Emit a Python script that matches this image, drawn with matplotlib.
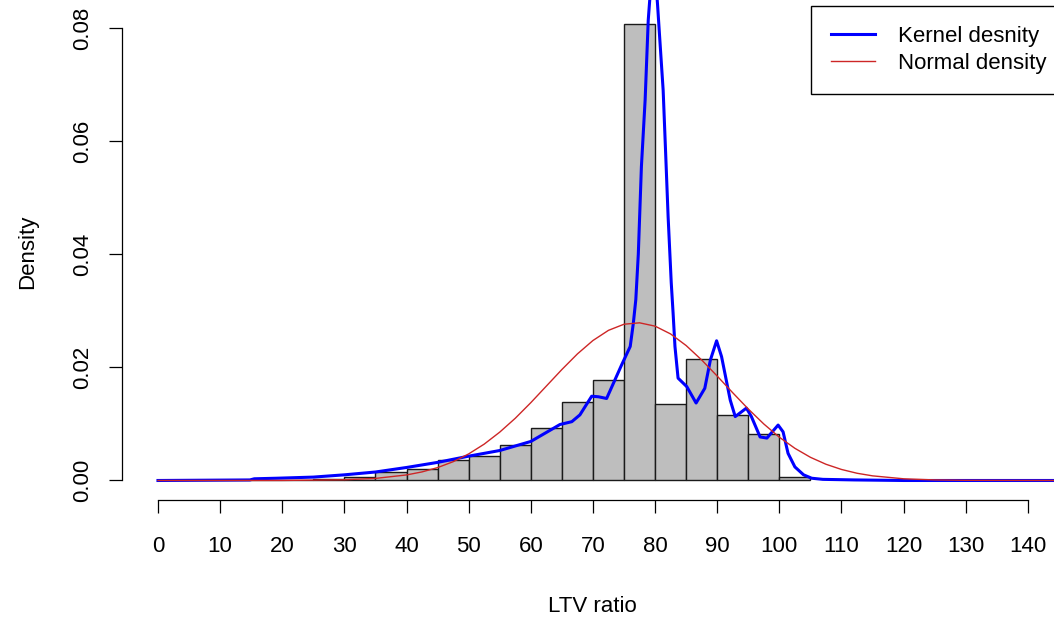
import matplotlib
matplotlib.use('Agg')
import matplotlib.pyplot as plt

plt.rcParams['font.family'] = ['Liberation Sans', 'DejaVu Sans']

# histogram (density scale), 5-unit bins
bin_left = [0, 5, 10, 15, 20, 25, 30, 35, 40, 45, 50, 55, 60, 65, 70, 75, 80, 85, 90, 95, 100]
bin_density = [0.0, 0.0, 0.00003, 0.00006, 0.0001, 0.0002, 0.0007, 0.0015, 0.0020, 0.0036,
               0.0044, 0.0063, 0.0092, 0.0138, 0.0178, 0.0807, 0.0136, 0.0215, 0.0115,
               0.0083, 0.0006]

# kernel density curve
kde_x = [0, 14.8, 15.5, 19.1, 25, 30, 35, 40, 45, 50, 55, 60, 64.7, 66.6, 67.9, 69.8,
         70.9, 72.2, 73.3, 74.6, 76.0, 76.5, 76.9, 77.3, 77.8, 78.4, 78.9, 79.75, 80.4,
         80.7, 81.3, 81.7, 82.1, 82.6, 82.9, 83.2, 83.7, 85.1, 86.6, 88.0, 88.9, 89.9,
         90.7, 92.1, 92.9, 94.7, 95.5, 96.9, 98.0, 99.8, 100.6, 101.4, 102.5, 103.9,
         105.2, 107, 112, 120, 146]
kde_y = [0, 0.0001, 0.0003, 0.0004, 0.0006, 0.0010, 0.0015, 0.0023, 0.0032, 0.0043,
         0.0053, 0.0069, 0.0099, 0.0104, 0.0116, 0.0149, 0.0148, 0.0145, 0.0172, 0.0204,
         0.0237, 0.0278, 0.0320, 0.0400, 0.0555, 0.0673, 0.0814, 0.0940, 0.0841, 0.0790,
         0.0690, 0.0579, 0.0466, 0.0350, 0.0296, 0.0237, 0.0181, 0.0166, 0.0137, 0.0163,
         0.0213, 0.0247, 0.0219, 0.0142, 0.0113, 0.0128, 0.0113, 0.0077, 0.0075, 0.0098,
         0.0086, 0.0048, 0.0024, 0.0010, 0.0004, 0.0002, 0.0001, 0.0, 0.0]

# normal density curve
norm_x = [0, 20, 30, 35, 40, 42.5, 45, 47.5, 50, 52.5, 55, 57.5, 60, 62.5, 65, 67.5, 70,
          72.5, 75, 77.5, 80, 82.5, 85, 87.5, 90, 92.5, 95, 97.5, 100, 102.5, 105, 107.5,
          110, 112.5, 115, 120, 125, 130, 146]
norm_y = [0.0, 0.00001, 0.00013, 0.00037, 0.00098, 0.00152, 0.00228, 0.00332, 0.0047,
          0.00643, 0.00855, 0.0110, 0.01376, 0.01669, 0.01962, 0.02238, 0.02475, 0.02655,
          0.02763, 0.02788, 0.02729, 0.02591, 0.02386, 0.02131, 0.01846, 0.01551, 0.01264,
          0.00999, 0.00765, 0.00569, 0.0041, 0.00287, 0.00195, 0.00128, 0.00082, 0.0003,
          0.0001, 0.00003, 0.0]

x_ticks = list(range(0, 141, 10))
y_ticks = [0.0, 0.02, 0.04, 0.06, 0.08]
y_tick_labels = ['0.00', '0.02', '0.04', '0.06', '0.08']

W, H = 1054, 620
fig = plt.figure(figsize=(W / 100, H / 100), dpi=100)
ax = fig.add_axes([122 / W, 120 / H, 932 / W, 500 / H])

ax.bar(bin_left, bin_density, width=5, align='edge', color='#bebebe',
       edgecolor='#1a1a1a', linewidth=1.0, zorder=1)
ax.plot(kde_x, kde_y, color='#0000ff', lw=2.2, label='Kernel desnity', zorder=2)
ax.plot(norm_x, norm_y, color='#cd2626', lw=1.0, label='Normal density', zorder=3)

ax.set_xlim(-5.79, 144.2)
ax.set_ylim(-0.00345, 0.08496)

for s in ['top', 'right']:
    ax.spines[s].set_visible(False)
ax.spines['left'].set_bounds(0, 0.08)
ax.spines['bottom'].set_bounds(0, 140)
for s in ['left', 'bottom']:
    ax.spines[s].set_linewidth(0.9)

ax.set_xticks(x_ticks)
ax.set_yticks(y_ticks)
ax.set_yticklabels(y_tick_labels)
ax.tick_params(axis='both', length=9.5, width=0.9, labelsize=16)
ax.tick_params(axis='x', pad=16.5)
ax.tick_params(axis='y', pad=11)
plt.setp(ax.get_yticklabels(), rotation=90, va='center')

fig.text(592 / W, 1 - 612 / H, 'LTV ratio', fontsize=16, ha='center', va='baseline')
fig.text(33 / W, 1 - 252 / H, 'Density', fontsize=16, rotation=90,
         rotation_mode='anchor', ha='center', va='baseline')

leg = ax.legend(loc='upper left', bbox_to_anchor=(811 / W, 1 - 6 / H),
                bbox_transform=fig.transFigure, borderaxespad=0, fontsize=16,
                frameon=True, fancybox=False, framealpha=1, edgecolor='black',
                handlelength=2.0, handletextpad=1.0, borderpad=0.9, labelspacing=0.25)
leg.get_frame().set_linewidth(1.0)

fig.savefig('out.png', dpi=100)
